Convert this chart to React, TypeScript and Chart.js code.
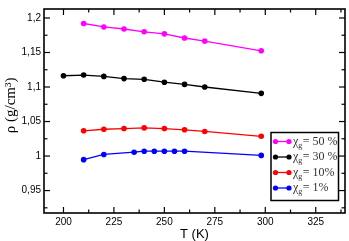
import React, { useEffect, useRef } from 'react';
import { Chart, registerables } from 'chart.js';
Chart.register(...registerables);

const temps50 = [210, 220, 230, 240, 250, 260, 270, 298];
const rho50 = [1.192, 1.187, 1.184, 1.18, 1.177, 1.171, 1.1665, 1.1525];
const temps30 = [200, 210, 220, 230, 240, 250, 260, 270, 298];
const rho30 = [1.1163, 1.1173, 1.1154, 1.1122, 1.1112, 1.107, 1.1038, 1.1, 1.0908];
const temps10 = [210, 220, 230, 240, 250, 260, 270, 298];
const rho10 = [1.0366, 1.0388, 1.0398, 1.0408, 1.0398, 1.038, 1.0356, 1.0286];
const temps1 = [210, 220, 235, 240, 245, 250, 255, 260, 298];
const rho1 = [0.9948, 1.0023, 1.0056, 1.007, 1.007, 1.007, 1.007, 1.007, 1.0009];

const seriesLabels = ['50 %', '30 %', '10%', '1%'];
const seriesColors = ['#ff00ff', '#000000', '#ff0000', '#0000ff'];

const xTicks = [200, 225, 250, 275, 300, 325];
const yTicks = [0.95, 1, 1.05, 1.1, 1.15, 1.2];
const yTickLabels = ['0,95', '1', '1,05', '1,1', '1,15', '1,2'];

const X_MIN = 190.35;
const X_MAX = 339.5;
const Y_MIN = 0.9175;
const Y_MAX = 1.213;

function minors(majors: number[], min: number, max: number) {
  const step = majors[1] - majors[0];
  const out: number[] = [];
  const first = majors[0] - step / 2;
  for (let v = first; v <= max + 1e-9; v += step) {
    if (v >= min - 1e-9) out.push(v);
  }
  return out;
}

const framePlugin = {
  id: 'frameTicks',
  afterDatasetsDraw(chart: any) {
    const { ctx, chartArea } = chart;
    const xs = chart.scales.x;
    const ys = chart.scales.y;
    const { left, right, top, bottom } = chartArea;
    ctx.save();
    ctx.strokeStyle = '#000';
    ctx.lineWidth = 1.2;
    const tick = (x1: number, y1: number, x2: number, y2: number) => {
      ctx.beginPath();
      ctx.moveTo(x1, y1);
      ctx.lineTo(x2, y2);
      ctx.stroke();
    };
    const major = 6;
    const minor = 3.5;
    xTicks.forEach((v) => {
      const p = xs.getPixelForValue(v);
      tick(p, bottom, p, bottom - major);
      tick(p, top, p, top + major);
    });
    minors(xTicks, X_MIN, X_MAX).forEach((v) => {
      const p = xs.getPixelForValue(v);
      tick(p, bottom, p, bottom - minor);
      tick(p, top, p, top + minor);
    });
    yTicks.forEach((v) => {
      const p = ys.getPixelForValue(v);
      tick(left, p, left + major, p);
      tick(right, p, right - major, p);
    });
    minors(yTicks, Y_MIN, Y_MAX).forEach((v) => {
      const p = ys.getPixelForValue(v);
      tick(left, p, left + minor, p);
      tick(right, p, right - minor, p);
    });
    ctx.lineWidth = 1.6;
    ctx.strokeRect(left, top, right - left, bottom - top);
    ctx.restore();
  },
  afterDraw(chart: any) {
    const { ctx } = chart;
    ctx.save();
    const bx = 271, by = 132.5, bw = 67.5, bh = 68;
    ctx.fillStyle = '#fff';
    ctx.fillRect(bx, by, bw, bh);
    ctx.strokeStyle = '#000';
    ctx.lineWidth = 1.5;
    ctx.strokeRect(bx, by, bw, bh);
    chart.data.datasets.forEach((ds: any, i: number) => {
      const y = 141.5 + i * 15.5;
      const color = ds.borderColor;
      ctx.strokeStyle = color;
      ctx.fillStyle = color;
      ctx.lineWidth = 1.3;
      ctx.beginPath();
      ctx.moveTo(275.5, y);
      ctx.lineTo(289, y);
      ctx.stroke();
      [275.5, 289].forEach((x) => {
        ctx.beginPath();
        ctx.arc(x, y, 2.6, 0, Math.PI * 2);
        ctx.fill();
      });
      ctx.fillStyle = '#333';
      ctx.textBaseline = 'middle';
      ctx.textAlign = 'left';
      ctx.font = '12px "Liberation Serif", serif';
      let tx = 293;
      ctx.fillText('\u03c7', tx, y);
      tx += ctx.measureText('\u03c7').width;
      ctx.font = '8px "Liberation Serif", serif';
      ctx.fillText('g', tx, y + 4);
      tx += ctx.measureText('g').width + 0.5;
      ctx.font = '12px "Liberation Serif", serif';
      ctx.fillText('= ' + ds.label, tx, y);
    });
    ctx.restore();
  },
};

export default function App() {
  const ref = useRef<HTMLCanvasElement>(null);
  useEffect(() => {
    document.body.style.margin = '0';
    const mk = (xs: number[], ys: number[]) => xs.map((x, i) => ({ x, y: ys[i] }));
    const series = [
      mk(temps50, rho50),
      mk(temps30, rho30),
      mk(temps10, rho10),
      mk(temps1, rho1),
    ];
    const chart = new Chart(ref.current as HTMLCanvasElement, {
      type: 'line',
      data: {
        datasets: series.map((d, i) => ({
          label: seriesLabels[i],
          data: d,
          borderColor: seriesColors[i],
          backgroundColor: seriesColors[i],
          pointBackgroundColor: seriesColors[i],
          pointBorderWidth: 0,
          pointRadius: 2.8,
          borderWidth: 1.3,
          tension: 0,
          fill: false,
        })),
      },
      options: {
        animation: false,
        responsive: false,
        layout: { padding: { top: 2, right: 2, left: 0, bottom: 0 } },
        plugins: { legend: { display: false }, tooltip: { enabled: false } },
        scales: {
          x: {
            type: 'linear',
            min: X_MIN,
            max: X_MAX,
            grid: { display: false, drawTicks: false },
            border: { display: false },
            afterBuildTicks: (s: any) => {
              s.ticks = xTicks.map((v) => ({ value: v }));
            },
            afterFit: (s: any) => {
              s.height = 28;
            },
            ticks: {
              padding: 3,
              color: '#000',
              maxRotation: 0,
              font: { family: '"Liberation Sans", Arial, sans-serif', size: 10 },
              callback: (v: any) => String(v),
            },
            title: {
              display: true,
              text: 'T (K)',
              color: '#000',
              padding: { top: 0, bottom: 0 },
              font: { family: '"Liberation Sans", Arial, sans-serif', size: 13, lineHeight: 1 },
            },
          },
          y: {
            type: 'linear',
            min: Y_MIN,
            max: Y_MAX,
            grid: { display: false, drawTicks: false },
            border: { display: false },
            afterBuildTicks: (s: any) => {
              s.ticks = yTicks.map((v) => ({ value: v }));
            },
            afterFit: (s: any) => {
              s.width = 44;
            },
            ticks: {
              padding: 3,
              color: '#000',
              font: { family: '"Liberation Sans", Arial, sans-serif', size: 10 },
              callback: (v: any) => {
                const i = yTicks.findIndex((t) => Math.abs(t - v) < 1e-6);
                return i >= 0 ? yTickLabels[i] : '';
              },
            },
            title: {
              display: true,
              text: '   \u03c1 (g/cm\u00b3)',
              color: '#000',
              padding: { top: 4, bottom: 0 },
              font: { family: '"Liberation Serif", serif', size: 15, lineHeight: 1 },
            },
          },
        },
      },
      plugins: [framePlugin],
    } as any);
    return () => chart.destroy();
  }, []);
  return (
    <div style={{ position: 'fixed', left: 0, top: 0, width: 349, height: 241 }}>
      <canvas ref={ref} width={349} height={241} />
    </div>
  );
}
